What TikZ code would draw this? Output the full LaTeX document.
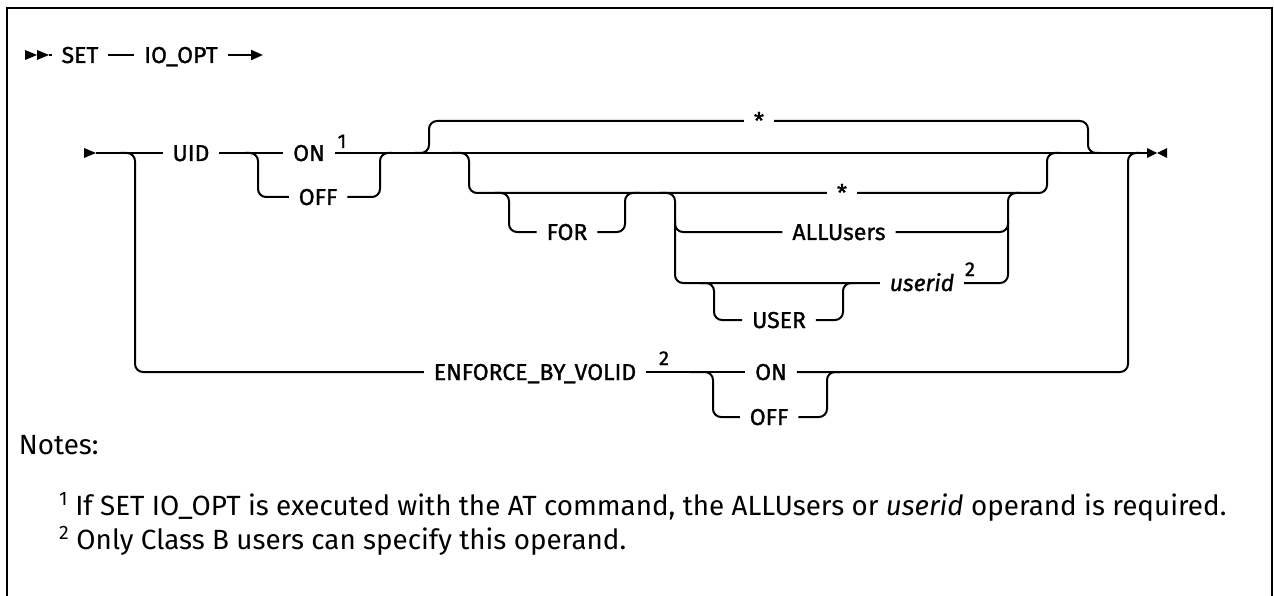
\documentclass[tikz,border=0pt]{standalone}
\usepackage{fontspec}
\setmainfont{Fira Sans}
\newfontfamily\railfont[FakeBold=1.2]{Fira Sans}
\usetikzlibrary{arrows.meta}
\usetikzlibrary{positioning}

\newcommand\railsize{\fontsize{23}{27}\selectfont}

\begin{document}
\begin{tikzpicture}[
  x=1pt, y=-1pt, line width=2pt,
  every node/.style={font=\railfont\railsize, inner xsep=9pt, inner ysep=0pt,
    text height=16pt, text depth=0pt},
  rail/.style={rounded corners=8pt},
  supnum/.style={font=\railfont\fontsize{20}{22}\selectfont, inner sep=0pt},
  note/.style={font=\fontsize{27.8}{32}\selectfont, anchor=base west, inner sep=0pt,
    text height=, text depth=}
]
\useasboundingbox (0,0) rectangle (1274,596);
\draw[line width=2.5pt] (7,600) -- (7,8) -- (1272,8) -- (1272,600);

% first line
\node (set) at (80,55) {SET};
\node (ioopt) at (181,55) {IO\_OPT};
\coordinate (cont) at (263,55);
\fill (25,50) -- (37,55) -- (25,60) -- cycle;
\fill (37,50) -- (49,55) -- (37,60) -- cycle;
\draw (49,55) -- (set);
\draw (set) -- (ioopt);
\draw[-{Triangle[length=12pt,width=10pt]}] (ioopt) -- (cont);

% main line
\coordinate (start) at (96,153);
\coordinate (stop) at (1147,153);
\fill (84,148) -- (start) -- (84,158) -- cycle;
\fill (1147,148) -- (1157,153) -- (1147,158) -- cycle;
\fill (1167,148) -- (1157,153) -- (1167,158) -- cycle;
\node (uid) at (191,153) {UID};
\node (on) at (309,153) {ON};
\node[supnum] (n1) at (342,140) {1};
\node (off) at (318,197) {OFF};
\draw (start) -- (uid);
\draw (uid) -- (on);
\draw (on) -- (stop);
\draw[rail] (245,153) -| (258,197) -- (off);
\draw[rail] (off) -| (380,153) -- (392,153);

% default star
\node (star1) at (759,121) {*};
\draw[rail] (415,153) -| (429,121) -- (star1);
\draw[rail] (star1) -| (1088,153) -- (1100,153);

% FOR / users
\node (star2) at (842,193) {*};
\node (for) at (567,232) {FOR};
\node (allu) at (839,232) {ALLUsers};
\node (userid) at (922,283) {\itshape userid};
\node[supnum] (n2a) at (970,268) {2};
\node (user) at (779,320) {USER};
\draw[rail] (452,153) -| (469,193) -- (star2);
\draw[rail] (star2) -| (1047,153) -- (1060,153);
\draw[rail] (495,193) -| (509,232) -- (for);
\draw[rail] (for) -| (625,193) -- (640,193);
\draw[rail] (660,193) -| (675,283) -- (userid);
\draw[rail] (675,220) |- (allu);
\draw[rail] (allu) -| (1008,220);
\draw[rail] (userid) -| (1008,193) -- (1020,193);
\draw[rail] (700,283) -| (714,320) -- (user);
\draw[rail] (user) -| (843,283) -- (855,283);

% enforce
\node (enf) at (535,372) {ENFORCE\_BY\_VOLID};
\node[supnum] (n2b) at (664,357) {2};
\node (on2) at (771,372) {ON};
\node (off2) at (769,417) {OFF};
\draw[rail] (120,153) -| (135,372) -- (enf);
\draw (enf) -- (on2);
\draw[rail] (690,372) -| (713,417) -- (off2);
\draw[rail] (off2) -| (827,372) -- (840,372);
\draw[rail] (on2) -| (1128,153) -- (1140,153);

% notes
\node[note] (notes) at (18,454) {Notes:};
\node[note] (note1) at (58,515) {\textsuperscript{1} If SET IO\_OPT is executed with the AT command, the ALLUsers or \textit{userid} operand is required.};
\node[note] (note2) at (58,549) {\textsuperscript{2} Only Class B users can specify this operand.};
\end{tikzpicture}
\end{document}
